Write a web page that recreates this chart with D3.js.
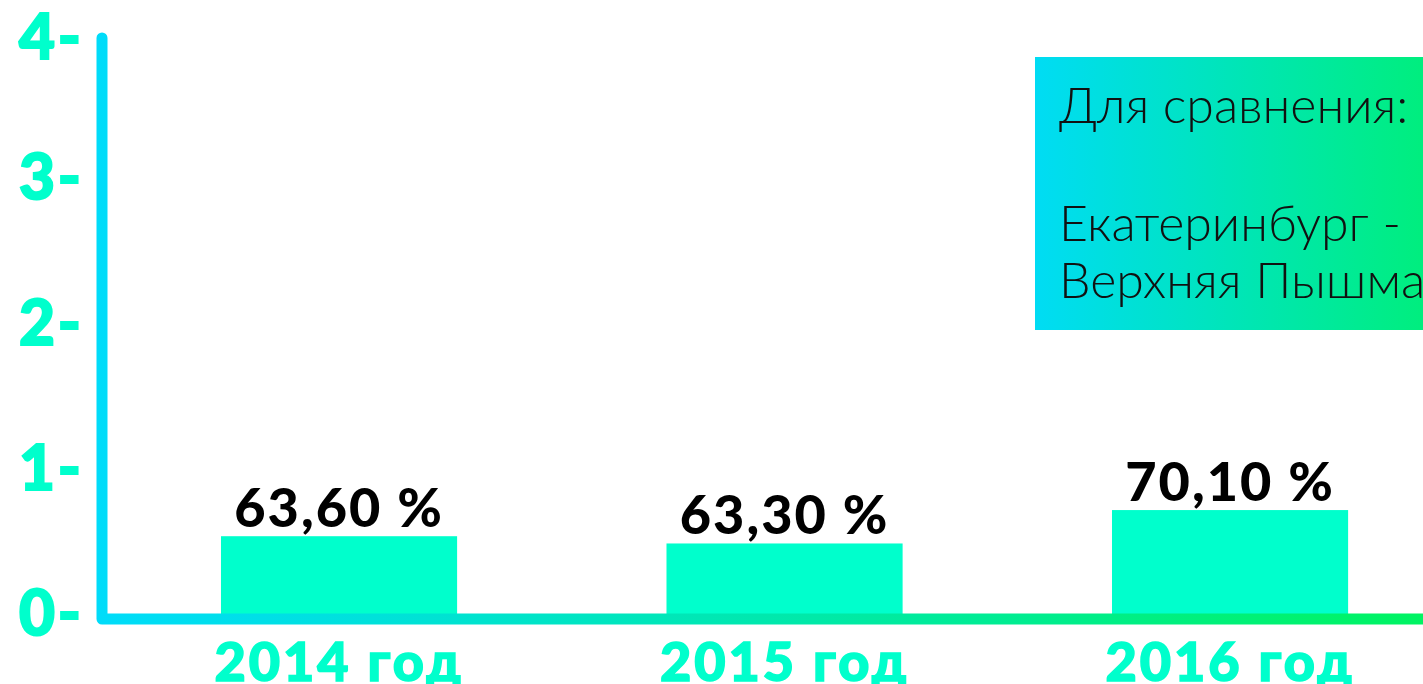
<!DOCTYPE html>
<html>
<head>
<meta charset="utf-8">
<script src="https://cdn.jsdelivr.net/npm/d3@7"></script>
<style>
  html, body { margin: 0; padding: 0; background: #ffffff; overflow: hidden; }
  svg { display: block; }
</style>
</head>
<body>
<svg id="chart" width="1423" height="684"></svg>
<script>
// ---- data ----
const categories = ["2014 год", "2015 год", "2016 год"];
const barValues = [0.57, 0.52, 0.75];           // bar heights on the 0–4 axis
const valueLabels = ["63,60 %", "63,30 %", "70,10 %"];
const yTicks = [0, 1, 2, 3, 4];
const noteLines = ["Для сравнения:", "", "Екатеринбург -", "Верхняя Пышма"];

const W = 1423, H = 684;
const svg = d3.select("#chart");
const defs = svg.append("defs");

const axisGrad = defs.append("linearGradient").attr("id", "axisGrad")
  .attr("gradientUnits", "userSpaceOnUse").attr("x1", 97).attr("x2", 1423).attr("y1", 0).attr("y2", 0);
axisGrad.append("stop").attr("offset", "0%").attr("stop-color", "#00dcfa");
axisGrad.append("stop").attr("offset", "100%").attr("stop-color", "#00f462");

const boxGrad = defs.append("linearGradient").attr("id", "boxGrad")
  .attr("gradientUnits", "userSpaceOnUse").attr("x1", 1035).attr("x2", 1423).attr("y1", 0).attr("y2", 0);
boxGrad.append("stop").attr("offset", "0%").attr("stop-color", "#00dcf4");
boxGrad.append("stop").attr("offset", "100%").attr("stop-color", "#00ee7e");

const y = d3.scaleLinear().domain([0, 4]).range([619, 38]);
const x = d3.scaleBand().domain(categories).range([11.6, 1557.5]).padding(0.47);

// note box
svg.append("rect").attr("x", 1035).attr("y", 57).attr("width", 420).attr("height", 273)
  .attr("fill", "url(#boxGrad)");
const noteY = [123, 0, 241, 298];
svg.append("g").selectAll("text").data(noteLines).join("text")
  .attr("x", 1059).attr("y", (d, i) => noteY[i])
  .attr("font-family", "Lato, 'Noto Sans', sans-serif").attr("font-weight", 300)
  .attr("font-size", 50).attr("fill", "#111").text(d => d);

// bars
svg.append("g").selectAll("rect").data(categories).join("rect")
  .attr("x", d => x(d)).attr("width", x.bandwidth())
  .attr("y", (d, i) => y(barValues[i])).attr("height", (d, i) => y(0) - y(barValues[i]))
  .attr("fill", "#00ffcc");

// value labels
svg.append("g").selectAll("text").data(categories).join("text")
  .attr("x", d => x(d) + x.bandwidth() / 2).attr("y", (d, i) => y(barValues[i]) - 9)
  .attr("text-anchor", "middle")
  .attr("font-family", "Lato, sans-serif").attr("font-weight", 900)
  .attr("font-size", 54).attr("fill", "#000").attr("letter-spacing", 2)
  .text((d, i) => valueLabels[i]);

// axis lines
svg.append("path").attr("d", `M102,${y(4)}V${y(0)}H1440`)
  .attr("fill", "none").attr("stroke", "url(#axisGrad)").attr("stroke-width", 11)
  .attr("stroke-linecap", "round").attr("stroke-linejoin", "round");

// y axis ticks
const yAxis = svg.append("g").attr("transform", "translate(84,0)")
  .call(d3.axisLeft(y).tickValues(yTicks).tickSize(0).tickPadding(0).tickFormat(d => d + "-"));
yAxis.select(".domain").remove();
yAxis.selectAll("text")
  .attr("font-family", "Lato, sans-serif").attr("font-weight", 900)
  .attr("font-size", 62).attr("fill", "#00ffcc").attr("letter-spacing", 3)
  .attr("stroke", "#00ffcc").attr("stroke-width", 2)
  .attr("dy", (d) => d === 4 ? "0.33em" : "0.25em");

// x axis labels
const xAxis = svg.append("g").attr("transform", `translate(0,${y(0)})`)
  .call(d3.axisBottom(x).tickSize(0).tickPadding(0));
xAxis.select(".domain").remove();
xAxis.selectAll("text")
  .attr("font-family", "Lato, sans-serif").attr("font-weight", 900)
  .attr("font-size", 54).attr("fill", "#00ffcc").attr("letter-spacing", 3)
  .attr("stroke", "#00ffcc").attr("stroke-width", 1.5)
  .attr("dy", "0").attr("y", 62);
</script>
</body>
</html>
